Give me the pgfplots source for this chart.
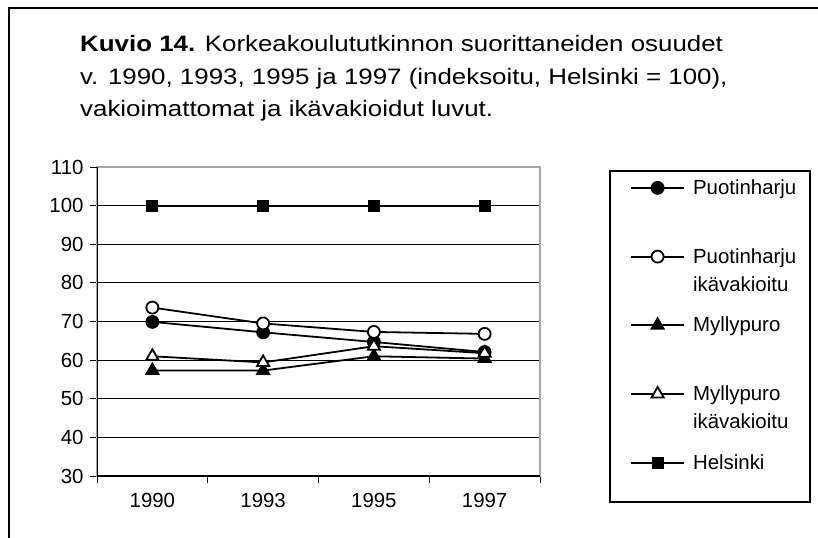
\documentclass[border=0pt]{standalone}
\usepackage{fontspec}
\setmainfont{Liberation Sans}
\newfontfamily\titlefont{Liberation Sans}[FakeStretch=1.16]
\usepackage{pgfplots}
\pgfplotsset{compat=1.18}

% legend entries: fixed cap-height box, second line hangs below
\newcommand\oneline[1]{\raisebox{0pt}[14.7bp][0pt]{#1}}
\newcommand\twoline[2]{\raisebox{0pt}[14.7bp][0pt]{\begin{tabular}[t]{@{}l@{}}#1\\#2\end{tabular}}}

\begin{document}
\begin{tikzpicture}[x=1bp, y=1bp]
\path[use as bounding box] (0,0) rectangle (818,-538);
% outer frame (top and left edges visible)
\fill[black] (8,-7) rectangle (818,-9.5);
\fill[black] (7.5,-7) rectangle (10,-538);

% title
\begin{scope}[every node/.style={anchor=base west, inner sep=0pt, font=\titlefont\fontsize{22.4}{32}\selectfont}]
\node at (80,-52) {\textbf{Kuvio 14.} Korkeakoulututkinnon suorittaneiden osuudet};
\node at (80,-84.5) {v. 1990, 1993, 1995 ja 1997 (indeksoitu, Helsinki = 100),};
\node at (80,-117) {vakioimattomat ja ikävakioidut luvut.};
\end{scope}

\begin{axis}[
  at={(97bp,-476bp)}, anchor=south west,
  scale only axis, width=443bp, height=309bp,
  xmin=-0.5, xmax=3.5, ymin=30, ymax=110,
  xtick={-0.5,0.5,1.5,2.5,3.5}, xticklabels={},
  extra x ticks={0,1,2,3},
  extra x tick labels={1990,1993,1995,1997},
  extra x tick style={major tick length=0pt, grid=none},
  ytick={30,40,...,100},
  extra y ticks={110}, extra y tick style={grid=none},
  tick pos=left, tick align=outside,
  major tick length=7bp,
  ymajorgrids, grid style={black, line width=0.8bp},
  axis line style={gray!70, line width=1.2bp},
  tick style={black, line width=1bp},
  ticklabel style={font=\fontsize{20.5}{24}\selectfont},
  /pgf/number format/assume math mode=true,
  yticklabel style={xshift=-3bp},
  xticklabel style={yshift=-14bp},
  every axis plot/.append style={black, line width=1.8bp, mark options={solid}},
  legend style={draw=none, fill=none, inner sep=0pt, row sep=52.5bp, column sep=8bp,
    nodes={inner sep=0pt}, font=\fontsize{20.5}{28}\selectfont,
    at={(axis description cs:1.2032,0.9592)}, anchor=north west},
  legend cell align=left,
  legend image code/.code={\draw[mark repeat=2,mark phase=2] plot coordinates {(0bp,0bp) (26.5bp,0bp) (53bp,0bp)};},
]
\draw[black, line width=1.2bp] (rel axis cs:0,1) -- (rel axis cs:0,0) -- (rel axis cs:1,0);

\addplot[mark=*, mark size=6bp] coordinates {(0,69.9) (1,67.2) (2,64.7) (3,62.1)};
\addlegendentry{\oneline{Puotinharju}}
\addplot[mark=*, mark size=6bp, mark options={fill=white}] coordinates {(0,73.6) (1,69.5) (2,67.3) (3,66.8)};
\addlegendentry{\twoline{Puotinharju}{ikävakioitu}}
\addplot[mark=triangle*, mark size=7bp] coordinates {(0,57.3) (1,57.3) (2,61.0) (3,60.4)};
\addlegendentry{\oneline{Myllypuro}}
\addplot[mark=triangle*, mark size=7bp, mark options={fill=white}] coordinates {(0,61.0) (1,59.4) (2,63.6) (3,61.8)};
\addlegendentry{\twoline{Myllypuro}{ikävakioitu}}
\addplot[mark=square*, mark size=5bp] coordinates {(0,100) (1,100) (2,100) (3,100)};
\addlegendentry{\oneline{Helsinki}}
\end{axis}

% legend frame
\draw[black, line width=1.2bp] (610,-171) rectangle (810,-502);
\end{tikzpicture}
\end{document}
